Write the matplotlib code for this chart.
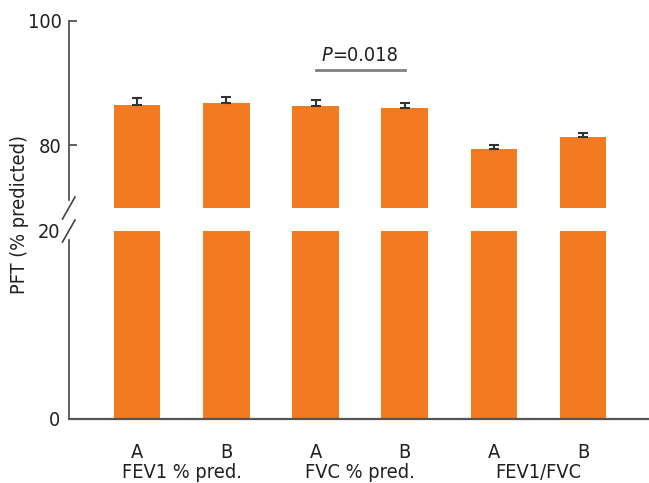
import matplotlib
matplotlib.use("Agg")
import matplotlib.pyplot as plt
from matplotlib.lines import Line2D
from matplotlib import font_manager
from matplotlib.font_manager import FontProperties
from matplotlib.transforms import blended_transform_factory, offset_copy

# ---- data ----
groups = ["FEV1 % pred.", "FVC % pred.", "FEV1/FVC"]
subgroups = ["A", "B"]
means = [86.5, 86.7, 86.35, 85.9, 79.45, 81.4]
errors = [1.05, 1.0, 0.95, 0.85, 0.55, 0.55]
p_label = "0.018"
p_pair = (2, 3)
p_level = 92.1


# ---- fonts: prefer a narrow sans face when one is installed ----
def find_narrow(italic=False):
    best = None
    for f in font_manager.fontManager.ttflist:
        narrow = ("Narrow" in f.name or "Condensed" in f.name
                  or "ondensed" in str(f.stretch) or "Narrow" in f.fname
                  or "Condensed" in f.fname)
        if not narrow:
            continue
        if "Bold" in f.fname or "Light" in f.fname or "Black" in f.fname:
            continue
        is_it = ("Italic" in f.fname or "Oblique" in f.fname or f.style != "normal")
        if is_it != italic:
            continue
        score = 0
        if "Liberation" in f.fname:
            score = 3
        elif "DejaVuSans" in f.fname and "Mono" not in f.fname and "Serif" not in f.fname:
            score = 2
        elif "Serif" not in f.fname and "Mono" not in f.fname:
            score = 1
        if best is None or score > best[0]:
            best = (score, f.fname)
    return best[1] if best else None


reg_path = find_narrow(False)
it_path = find_narrow(True)


def fp(size, italic=False):
    path = it_path if italic else reg_path
    if path:
        return FontProperties(fname=path, size=size)
    return FontProperties(family="Liberation Sans", size=size,
                          style="italic" if italic else "normal")


W, H = 649, 483
fig = plt.figure(figsize=(W / 100, H / 100), dpi=100)


def fx(px):
    return px / W


def fy(py):
    return 1 - py / H


axis_x = 68.5
ax_top = fig.add_axes([fx(axis_x), fy(207.7), 1 - fx(axis_x), fy(20.5) - fy(207.7)])
ax_bot = fig.add_axes([fx(axis_x), fy(418.5), 1 - fx(axis_x), fy(231) - fy(418.5)])

bar_color = "#F37A21"
axis_color = "#444444"
text_color = "#231F20"
FS = 14.3
x = list(range(len(means)))
xlim = (-0.77, 5.74)

for ax in (ax_top, ax_bot):
    ax.bar(x, means, width=0.52, color=bar_color, zorder=2)
    ax.set_xlim(*xlim)
    for s in ("top", "right"):
        ax.spines[s].set_visible(False)
    ax.spines["left"].set_color(axis_color)
    ax.spines["left"].set_linewidth(1.2)

# error bars (upper side only)
ax_top.errorbar(x, means, yerr=[[0] * len(errors), errors], fmt="none",
                ecolor="#333333", elinewidth=1.5, capsize=3.9, capthick=1.5, zorder=3)

ax_top.set_ylim(70, 100)
ax_top.spines["bottom"].set_visible(False)
ax_top.spines["left"].set_bounds(71.3, 100)
ax_top.set_xticks([])
ax_top.set_yticks([80, 100])
ax_top.tick_params(axis="y", direction="in", length=6, width=1.2, color=axis_color, pad=5)

ax_bot.set_ylim(0, 20)
ax_bot.spines["left"].set_bounds(0, 19.0)
ax_bot.spines["bottom"].set_color("#555555")
ax_bot.spines["bottom"].set_linewidth(1.6)
ax_bot.set_yticks([0, 20])
ax_bot.tick_params(axis="y", length=0, pad=6)
ax_bot.set_xticks(x)
ax_bot.set_xticklabels(subgroups * len(groups))
ax_bot.tick_params(axis="x", length=0, pad=18)

tick_fp = fp(FS)
for ax in (ax_top, ax_bot):
    for lab in ax.get_yticklabels() + ax.get_xticklabels():
        lab.set_fontproperties(tick_fp)
        lab.set_color(text_color)

# group names under each A/B pair
trans = blended_transform_factory(ax_bot.transData, fig.transFigure)
for i, g in enumerate(groups):
    ax_bot.text(2 * i + 0.5, fy(472), g, transform=trans, ha="center", va="center",
                fontproperties=fp(FS), color=text_color)

# axis break marks
for (x0, y0, x1, y1) in [(62.5, 219, 75, 197), (62.5, 242, 75, 220)]:
    fig.add_artist(Line2D([fx(x0), fx(x1)], [fy(y0), fy(y1)], transform=fig.transFigure,
                          color=axis_color, lw=1.2))

# significance bracket with centred "P=0.018" (italic P)
ax_top.plot([p_pair[0], p_pair[1]], [p_level, p_level], color="#808080", lw=2, clip_on=False)
xm = sum(p_pair) / 2
t_p = ax_top.text(xm, p_level + 0.75, "P", ha="left", va="bottom",
                  fontproperties=fp(FS, italic=True), color=text_color)
t_v = ax_top.text(xm, p_level + 0.75, "=" + p_label, ha="left", va="bottom",
                  fontproperties=fp(FS), color=text_color)
renderer = fig.canvas.get_renderer()
w_p = t_p.get_window_extent(renderer).width
w_v = t_v.get_window_extent(renderer).width
total = w_p + w_v
t_p.set_transform(offset_copy(ax_top.transData, fig=fig, x=-total / 2, y=0, units="dots"))
t_v.set_transform(offset_copy(ax_top.transData, fig=fig, x=-total / 2 + w_p, y=0, units="dots"))

fig.text(fx(20), fy(215), "PFT (% predicted)", rotation=90, ha="center", va="center",
         fontproperties=fp(FS), color=text_color)

fig.savefig("out.png", dpi=100)
